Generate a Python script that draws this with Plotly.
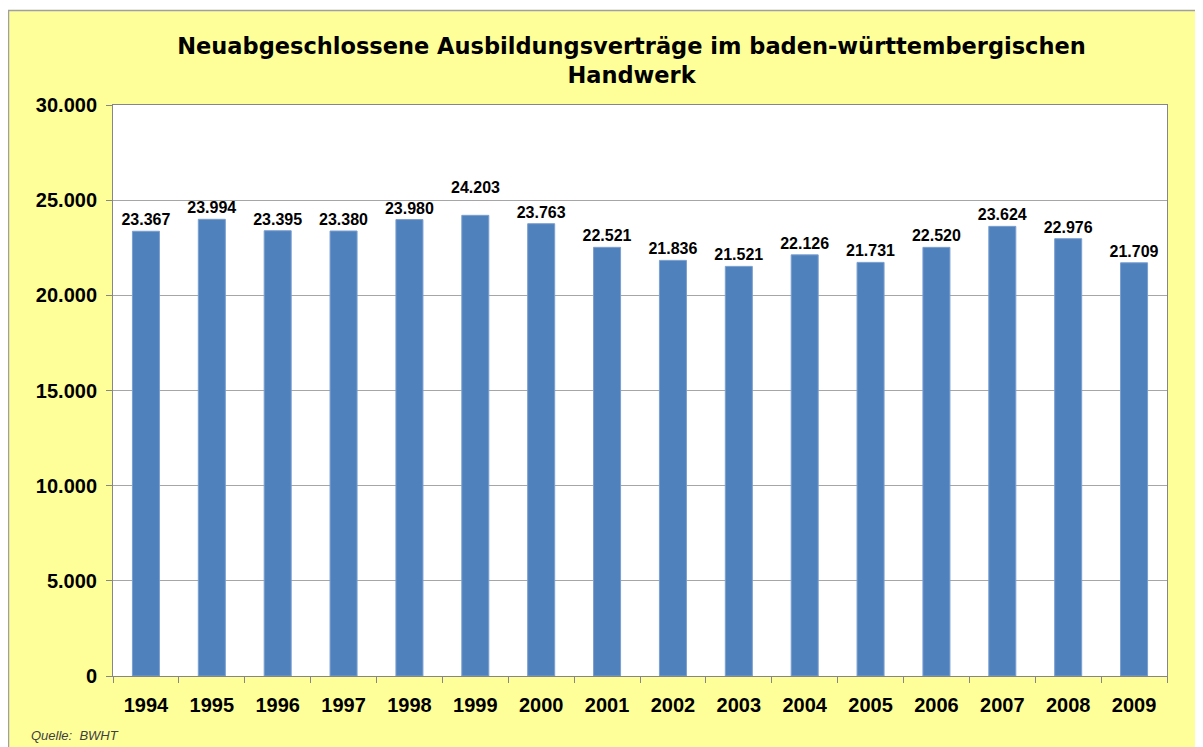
import plotly.graph_objects as go

years = ["1994", "1995", "1996", "1997", "1998", "1999", "2000", "2001",
         "2002", "2003", "2004", "2005", "2006", "2007", "2008", "2009"]
values = [23367, 23994, 23395, 23380, 23980, 24203, 23763, 22521,
          21836, 21521, 22126, 21731, 22520, 23624, 22976, 21709]
y_ticks = [0, 5000, 10000, 15000, 20000, 25000, 30000]
raised_label_year = "1999"   # label lifted above the gridline in the original

# page shows figure offset by 8px body margin
W, H = 1195, 739
L, R, T, B = 105, 36, 97, 71
pw, ph = W - L - R, H - T - B

def px(x):
    return (x - L) / pw

def py(y):
    return (H - B - y) / ph

def de(v):
    return f"{v:,}".replace(",", ".")

labels = ["" if yr == raised_label_year else de(v) for yr, v in zip(years, values)]
label_font = dict(family="Liberation Sans", size=16, color="black", weight="bold")

fig = go.Figure()
fig.add_trace(go.Bar(
    x=years, y=values,
    marker=dict(color="#4F81BD", line=dict(color="#7A9FD0", width=1)),
    width=0.41,
    text=labels, textposition="outside",
    constraintext="none",
    textfont=label_font,
    cliponaxis=False,
))

for i, (yr, v) in enumerate(zip(years, values)):
    if yr == raised_label_year:
        fig.add_annotation(x=i, y=v, xref="x", yref="y", text=de(v),
                           showarrow=False, yanchor="bottom", yshift=17,
                           font=label_font)

fig.update_layout(
    width=W, height=H,
    margin=dict(l=L, r=R, t=T, b=B, pad=0),
    separators=",.",
    paper_bgcolor="white",
    plot_bgcolor="white",
    showlegend=False,
    title=dict(
        text="<b>Neuabgeschlossene Ausbildungsverträge im baden-württembergischen<br>Handwerk</b>",
        x=623.5 / W, xanchor="center", xref="container",
        y=1 - 46 / H, yanchor="middle", yref="container",
        font=dict(family="DejaVu Sans", size=22.5, color="black"),
    ),
    xaxis=dict(
        type="category",
        showgrid=False, ticks="outside", tickson="boundaries", ticklen=6,
        tickcolor="#868686", linecolor="#868686", showline=True, mirror=True,
        tickfont=dict(family="Liberation Sans", size=20, color="black", weight="bold"),
        ticklabelstandoff=11,
    ),
    yaxis=dict(
        range=[0, 30000], tickvals=y_ticks, tickformat=",d",
        showgrid=True, gridcolor="#A6A6A6", gridwidth=1,
        ticks="outside", ticklen=6, tickcolor="#868686",
        showline=True, linecolor="#868686", mirror=True,
        tickfont=dict(family="Liberation Sans", size=20, color="black", weight="bold"),
        ticklabelstandoff=5,
        zeroline=False,
    ),
    bargap=0.59,
)

# Outer yellow chart area with grey border
fig.add_shape(type="rect", xref="paper", yref="paper",
              x0=px(0.5), x1=px(1210), y0=py(760), y1=py(2.5),
              fillcolor="#FFFF99", line=dict(color="#A0A0A0", width=1.5),
              layer="below")
# White plot area
fig.add_shape(type="rect", xref="paper", yref="paper",
              x0=0, x1=1, y0=0, y1=1,
              fillcolor="white", line=dict(width=0), layer="below")

fig.add_annotation(text="<i>Quelle:  BWHT</i>", xref="paper", yref="paper",
                   x=px(21), y=py(727), xanchor="left", yanchor="middle",
                   showarrow=False,
                   font=dict(family="Liberation Sans", size=13, color="#404040"))

fig.write_html("out.html")
